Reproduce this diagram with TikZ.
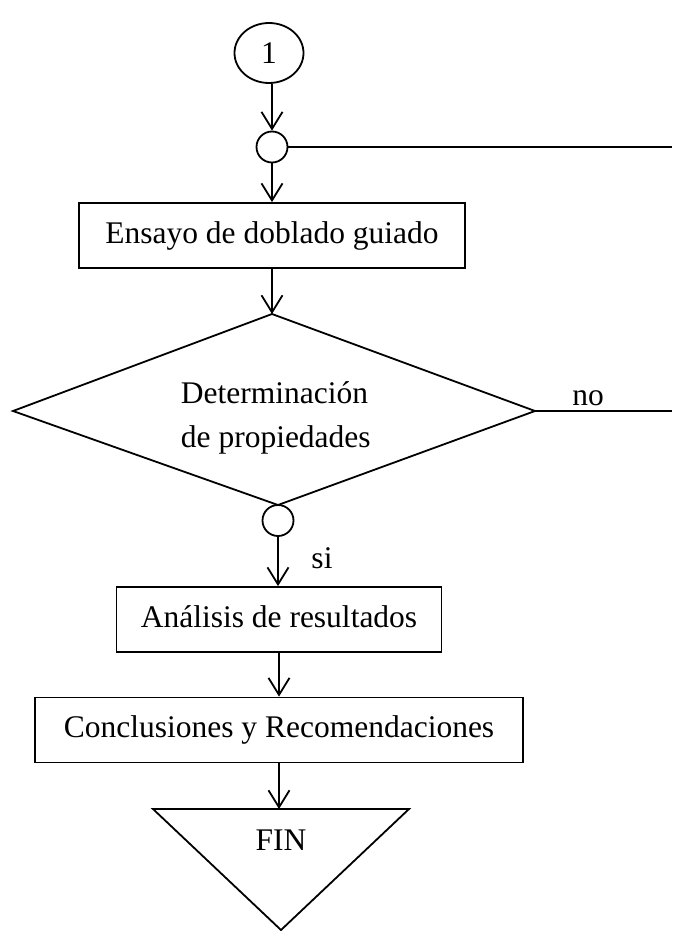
\documentclass[tikz,border=0pt]{standalone}
\usepackage{fontspec}
\setmainfont{Liberation Serif}
\usetikzlibrary{arrows.meta,shapes.geometric}
\begin{document}
\begin{tikzpicture}[x=1pt,y=-1pt,line width=1.8pt,
  txt/.style={font=\fontsize{31.5}{38}\selectfont},
  arr/.style={-{Straight Barb[length=17pt,width=21pt]}},
  box/.style={draw,rectangle,txt,minimum height=65pt,inner sep=0pt,text height=22pt,text depth=7pt},
  junc/.style={draw,circle,minimum size=31pt,inner sep=0pt},
  lbl/.style={txt,inner sep=0pt}]
\useasboundingbox (0,0) rectangle (672,931);
% start connector
\node[draw,ellipse,minimum width=69pt,minimum height=60pt,inner sep=0pt,txt] (c1) at (269,53) {1};
\node[junc] (j1) at (272,147) {};
\node[box,minimum width=386pt] (ens) at (272,235.5) {Ensayo de doblado guiado};
% decision
\coordinate (dT) at (272,314);
\coordinate (dL) at (13,411);
\coordinate (dR) at (535,411);
\coordinate (dB) at (278,505);
\draw (dT) -- (dR) -- (dB) -- (dL) -- cycle;
\node[lbl,anchor=base west] (dt1) at (180,403) {Determinación};
\node[lbl,anchor=base west] (dt2) at (180,447) {de propiedades};
\node[junc] (j2) at (278,520.5) {};
\node[box,minimum width=325pt] (anl) at (279,619.5) {Análisis de resultados};
\node[box,minimum width=488pt] (con) at (279,730) {Conclusiones y Recomendaciones};
% end triangle
\coordinate (tL) at (153,809);
\coordinate (tR) at (409,809);
\coordinate (tB) at (281,930);
\coordinate (tT) at (279,809);
\draw (tL) -- (tR) -- (tB) -- cycle;
\node[lbl] (fin) at (281,840) {FIN};
% loop lines
\coordinate (r1) at (672,147);
\coordinate (r2) at (672,411);
\draw (j1.east) -- (r1);
\draw (dR) -- (r2);
\node[lbl,anchor=base] (no) at (588,405) {no};
\node[lbl,anchor=base] (si) at (322,568) {si};
% arrows
\draw[arr] (c1.south -| j1.north) -- (j1.north);
\draw[arr] (j1.south) -- (ens.north);
\draw[arr] (ens.south) -- (dT);
\draw[arr] (j2.south) -- (j2.south |- anl.north);
\draw[arr] (anl.south) -- (con.north);
\draw[arr] (con.south) -- (tT);
\end{tikzpicture}
\end{document}
